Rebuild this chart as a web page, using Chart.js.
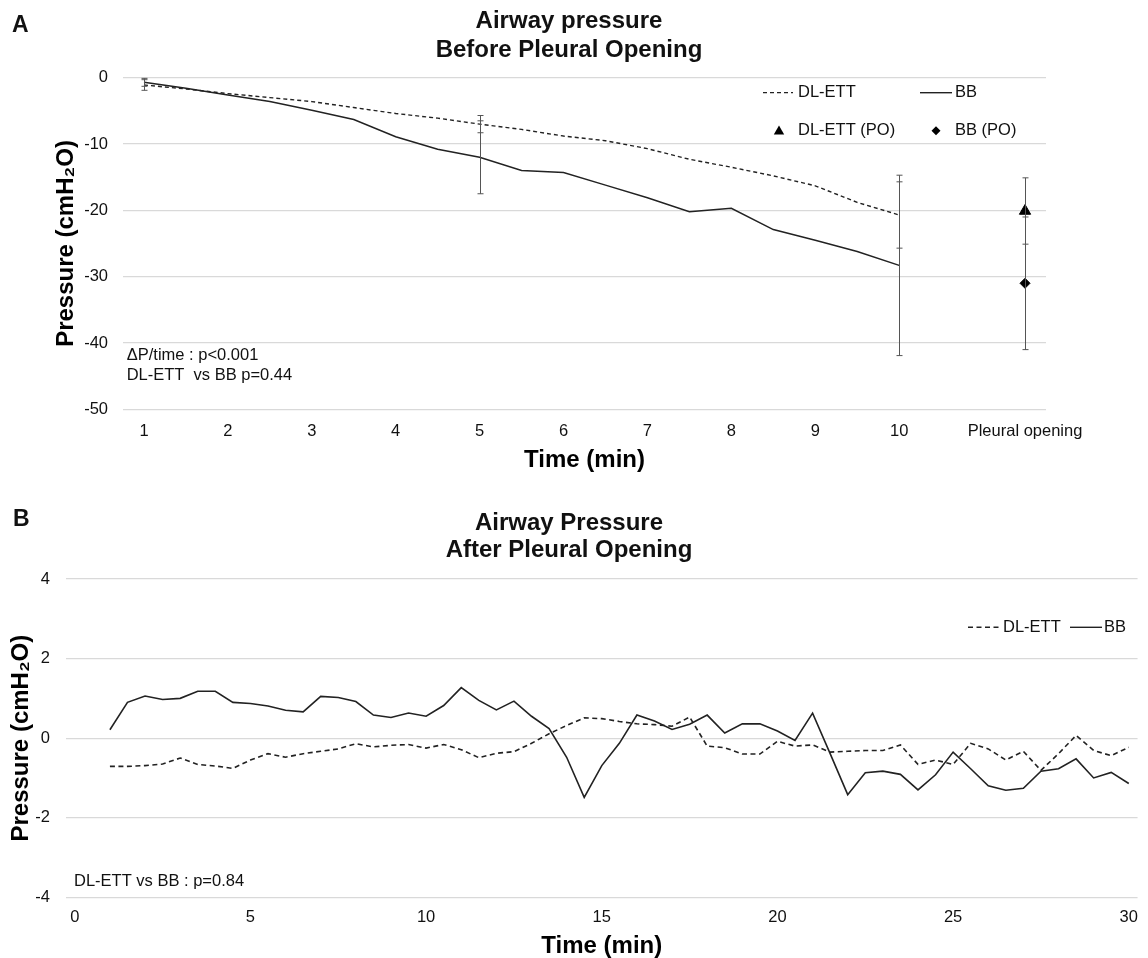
<!DOCTYPE html>
<html><head><meta charset="utf-8">
<script src="https://cdn.jsdelivr.net/npm/chart.js"></script>
<style>
html,body{margin:0;padding:0;background:#fff;}
#wrap{position:relative;width:1148px;height:958px;overflow:hidden;background:#fff;}
canvas{position:absolute;left:0;}
#cA{top:0;width:1148px;height:480px;}
#cB{top:480px;width:1148px;height:478px;}
</style></head><body>
<div id="wrap"><canvas id="cA" width="1148" height="480"></canvas><canvas id="cB" width="1148" height="478"></canvas></div>
<script>
const FONT = "'Liberation Sans', Arial, Helvetica, sans-serif";
Chart.defaults.font.family = FONT;
Chart.defaults.color = '#111';

// ---------- Panel A data ----------
const timeA = ['1','1.5','2','2.5','3','3.5','4','4.5','5','5.5','6','6.5','7','7.5','8','8.5','9','9.5','10','10.5','11','Pleural opening'];
const bbA   = [-0.7,-1.6,-2.6,-3.6,-4.9,-6.3,-8.9,-10.8,-12.0,-14.0,-14.3,-16.2,-18.1,-20.2,-19.7,-22.9,-24.5,-26.2,-28.3,null,null,null];
const dlA   = [-1.1,-1.7,-2.4,-3.0,-3.6,-4.5,-5.4,-6.1,-7.0,-7.8,-8.8,-9.5,-10.7,-12.3,-13.5,-14.8,-16.3,-18.8,-20.7,null,null,null];
const bbErrA = [0.6,null,null,null,null,null,null,null,5.5,null,null,null,null,null,null,null,null,null,13.6,null,null,null];
const dlErrA = [0.8,null,null,null,null,null,null,null,1.3,null,null,null,null,null,null,null,null,null,5.0,null,null,null];
const dlPO    = [null,null,null,null,null,null,null,null,null,null,null,null,null,null,null,null,null,null,null,null,null,-20.1];
const dlPOErr = [null,null,null,null,null,null,null,null,null,null,null,null,null,null,null,null,null,null,null,null,null,5.0];
const bbPO    = [null,null,null,null,null,null,null,null,null,null,null,null,null,null,null,null,null,null,null,null,null,-31.0];
const bbPOErr = [null,null,null,null,null,null,null,null,null,null,null,null,null,null,null,null,null,null,null,null,null,10.0];
const yTicksA = {min:-50, max:0, step:10};

// ---------- Panel B data ----------
const timeB = ['0','0.5','1','1.5','2','2.5','3','3.5','4','4.5','5','5.5','6','6.5','7','7.5','8','8.5','9','9.5','10','10.5','11','11.5','12','12.5','13','13.5','14','14.5','15','15.5','16','16.5','17','17.5','18','18.5','19','19.5','20','20.5','21','21.5','22','22.5','23','23.5','24','24.5','25','25.5','26','26.5','27','27.5','28','28.5','29','29.5','30'];
const bbB = [null,null,0.21,0.90,1.06,0.97,1.00,1.18,1.18,0.90,0.87,0.81,0.70,0.66,1.05,1.02,0.92,0.58,0.52,0.63,0.55,0.82,1.27,0.95,0.71,0.93,0.55,0.24,-0.48,-1.49,-0.69,-0.13,0.58,0.43,0.22,0.35,0.58,0.13,0.36,0.36,0.18,-0.06,0.63,-0.39,-1.42,-0.87,-0.83,-0.91,-1.30,-0.92,-0.35,-0.77,-1.20,-1.31,-1.26,-0.83,-0.77,-0.52,-1.00,-0.86,-1.14];
const dlB = [null,null,-0.71,-0.71,-0.69,-0.65,-0.50,-0.66,-0.70,-0.76,-0.55,-0.39,-0.48,-0.39,-0.33,-0.27,-0.14,-0.22,-0.18,-0.16,-0.25,-0.16,-0.29,-0.49,-0.38,-0.34,-0.13,0.11,0.32,0.51,0.49,0.42,0.36,0.34,0.30,0.53,-0.20,-0.24,-0.40,-0.40,-0.08,-0.20,-0.17,-0.35,-0.33,-0.31,-0.31,-0.17,-0.66,-0.55,-0.66,-0.13,-0.27,-0.55,-0.33,-0.81,-0.39,0.07,-0.31,-0.44,-0.23];
const yTicksB = {min:-4, max:4, step:2};

// ---------- helpers ----------
const errorBarPlugin = {
  id: 'errbars',
  afterDatasetsDraw(chart) {
    const {ctx, scales:{x, y}} = chart;
    chart.data.datasets.forEach(ds => {
      if (!ds.errors) return;
      ctx.save();
      ctx.strokeStyle = '#555'; ctx.lineWidth = 1; ctx.setLineDash([]);
      ds.errors.forEach((e, i) => {
        if (e == null || ds.data[i] == null) return;
        const px = Math.round(x.getPixelForValue(i)) + 0.5;
        const yt = y.getPixelForValue(ds.data[i] + e), yb = y.getPixelForValue(ds.data[i] - e);
        ctx.beginPath();
        ctx.moveTo(px, yt); ctx.lineTo(px, yb);
        ctx.moveTo(px - 3, yt); ctx.lineTo(px + 3, yt);
        ctx.moveTo(px - 3, yb); ctx.lineTo(px + 3, yb);
        ctx.stroke();
      });
      ctx.restore();
    });
  }
};

function sampleLine(ctx, x1, x2, y, dash, w) {
  ctx.save(); ctx.strokeStyle = '#222'; ctx.lineWidth = w; ctx.setLineDash(dash);
  ctx.beginPath(); ctx.moveTo(x1, y); ctx.lineTo(x2, y); ctx.stroke(); ctx.restore();
}
function triangle(ctx, x, y, r) {
  ctx.beginPath();
  ctx.moveTo(x, y - r); ctx.lineTo(x + r * 0.866, y + r * 0.5); ctx.lineTo(x - r * 0.866, y + r * 0.5); ctx.closePath();
  ctx.fillStyle = '#000'; ctx.fill();
}
function diamond(ctx, x, y, r) {
  ctx.beginPath();
  ctx.moveTo(x, y - r); ctx.lineTo(x + r, y); ctx.lineTo(x, y + r); ctx.lineTo(x - r, y); ctx.closePath();
  ctx.fillStyle = '#000'; ctx.fill();
}
function text(ctx, s, x, y, size, bold, align, base) {
  ctx.save();
  ctx.font = (bold ? 'bold ' : '') + size + 'px ' + FONT;
  ctx.fillStyle = '#111'; ctx.textAlign = align || 'left'; ctx.textBaseline = base || 'middle';
  ctx.fillText(s, x, y); ctx.restore();
}

const decorA = {
  id: 'decorA',
  afterDraw(chart) {
    const ctx = chart.ctx;
    text(ctx, 'A', 12, 26, 23, true, 'left', 'middle');
    text(ctx, 'Airway pressure', 569, 28.3, 24, true, 'center', 'alphabetic');
    text(ctx, 'Before Pleural Opening', 569, 56.7, 24, true, 'center', 'alphabetic');
    sampleLine(ctx, 763, 793, 92.7, [4, 3], 1.3);
    text(ctx, 'DL-ETT', 798, 92.7, 16.5, false);
    sampleLine(ctx, 920, 952, 92.7, [], 1.4);
    text(ctx, 'BB', 955, 92.7, 16.5, false);
    triangle(ctx, 779, 131.5, 6);
    text(ctx, 'DL-ETT (PO)', 798, 130.7, 16.5, false);
    diamond(ctx, 936, 130.7, 4.5);
    text(ctx, 'BB (PO)', 955, 130.7, 16.5, false);
    text(ctx, '\u0394P/time : p<0.001', 126.7, 355, 16.5, false);
    text(ctx, 'DL-ETT  vs BB p=0.44', 126.7, 375, 16.5, false);
  }
};
const decorB = {
  id: 'decorB',
  afterDraw(chart) {
    const ctx = chart.ctx;
    text(ctx, 'B', 13, 40, 23, true, 'left', 'middle');
    text(ctx, 'Airway Pressure', 569, 50, 24, true, 'center', 'alphabetic');
    text(ctx, 'After Pleural Opening', 569, 77.3, 24, true, 'center', 'alphabetic');
    sampleLine(ctx, 968, 1000, 147.3, [5, 3.5], 1.4);
    text(ctx, 'DL-ETT', 1003, 147.3, 16.5, false);
    sampleLine(ctx, 1070, 1102, 147.3, [], 1.4);
    text(ctx, 'BB', 1104, 147.3, 16.5, false);
    text(ctx, 'DL-ETT vs BB : p=0.84', 74, 401.7, 16.5, false);
  }
};

// ---------- Chart A ----------
new Chart(document.getElementById('cA'), {
  type: 'line',
  data: {
    labels: timeA,
    datasets: [
      {label:'DL-ETT', data: dlA, errors: dlErrA, borderColor:'#222', borderWidth:1.4, borderDash:[4,3], pointRadius:0, tension:0, fill:false},
      {label:'BB', data: bbA, errors: bbErrA, borderColor:'#222', borderWidth:1.5, pointRadius:0, tension:0, fill:false},
      {label:'DL-ETT (PO)', data: dlPO, errors: dlPOErr, showLine:false, pointStyle:'triangle', pointRadius:6.5, backgroundColor:'#000', borderColor:'#000', borderWidth:1},
      {label:'BB (PO)', data: bbPO, errors: bbPOErr, showLine:false, pointStyle:'rectRot', pointRadius:5, backgroundColor:'#000', borderColor:'#000', borderWidth:1}
    ]
  },
  options: {
    responsive:false, animation:false, events:[],
    layout:{padding:{top:77.7, right:102, bottom:0, left:0}},
    plugins:{legend:{display:false}, tooltip:{enabled:false}, title:{display:false}},
    scales:{
      x:{ type:'category', offset:true,
        grid:{display:false, drawTicks:false}, border:{display:false},
        ticks:{autoSkip:false, maxRotation:0, minRotation:0, padding:12, color:'#111', font:{size:16.5},
          callback(v){ const l = this.getLabelForValue(v); return (l === 'Pleural opening' || (Number.isInteger(+l) && +l <= 10)) ? l : ''; }},
        title:{display:true, text:'Time (min)', color:'#000', font:{size:24, weight:'bold', lineHeight:1.2}, padding:{top:0, bottom:5.6}},
        afterFit(s){ s.height = 70.7; }
      },
      y:{ min:yTicksA.min, max:yTicksA.max,
        ticks:{stepSize:yTicksA.step, padding:15, color:'#111', font:{size:16.5}},
        grid:{color:'#d9d9d9', lineWidth:1.3, drawTicks:false}, border:{display:false},
        title:{display:true, text:'Pressure (cmH\u2082O)', color:'#000', font:{size:24, weight:'bold', lineHeight:1.2}, padding:{top:51.6, bottom:0}},
        afterFit(s){ s.width = 123; }
      }
    }
  },
  plugins:[errorBarPlugin, decorA]
});

// ---------- Chart B ----------
new Chart(document.getElementById('cB'), {
  type: 'line',
  data: {
    labels: timeB,
    datasets: [
      {label:'DL-ETT', data: dlB, borderColor:'#222', borderWidth:1.6, borderDash:[5,3.5], pointRadius:0, tension:0, fill:false},
      {label:'BB', data: bbB, borderColor:'#222', borderWidth:1.6, pointRadius:0, tension:0, fill:false}
    ]
  },
  options: {
    responsive:false, animation:false, events:[],
    layout:{padding:{top:99, right:5, bottom:0, left:0}},
    plugins:{legend:{display:false}, tooltip:{enabled:false}, title:{display:false}},
    scales:{
      x:{ type:'category', offset:true,
        grid:{display:false, drawTicks:false}, border:{display:false},
        ticks:{autoSkip:false, maxRotation:0, minRotation:0, padding:10, color:'#111', font:{size:16.5},
          callback(v, i){ return i % 10 === 0 ? this.getLabelForValue(v) : ''; }},
        title:{display:true, text:'Time (min)', color:'#000', font:{size:24, weight:'bold', lineHeight:1.0}, padding:{top:0, bottom:0}},
        afterFit(s){ s.height = 60.7; }
      },
      y:{ min:yTicksB.min, max:yTicksB.max,
        ticks:{stepSize:yTicksB.step, padding:16, color:'#111', font:{size:16.5}},
        grid:{color:'#d9d9d9', lineWidth:1.3, drawTicks:false}, border:{display:false},
        title:{display:true, text:'Pressure (cmH\u2082O)', color:'#000', font:{size:24, weight:'bold', lineHeight:1.2}, padding:{top:6.6, bottom:0}},
        afterFit(s){ s.width = 66; }
      }
    }
  },
  plugins:[decorB]
});
</script>
</body></html>
